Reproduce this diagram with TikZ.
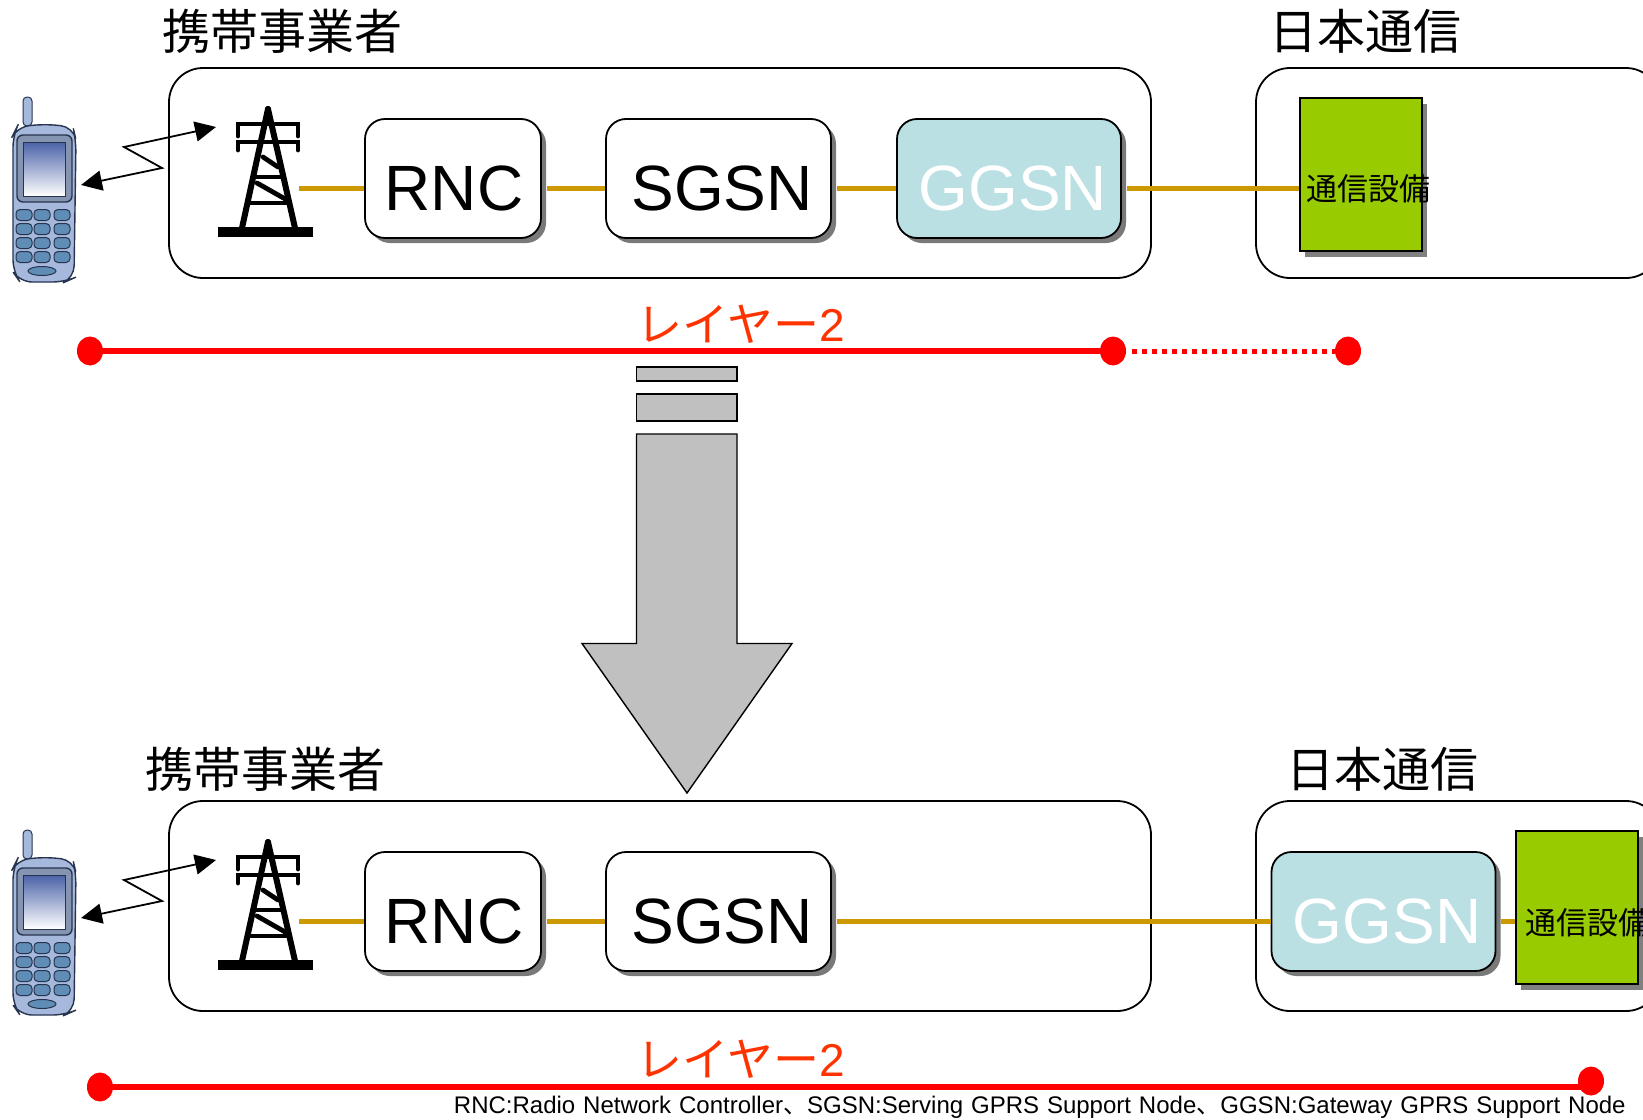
\documentclass[tikz,border=0pt]{standalone}
\usepackage{fontspec}
\setmainfont{Liberation Sans}
\newfontfamily\cjk{Noto Sans CJK JP}
\usetikzlibrary{shadows,arrows.meta,shapes.geometric}
\definecolor{linkcol}{HTML}{CC9900}
\definecolor{boxblue}{HTML}{BBE0E3}
\definecolor{boxgreen}{HTML}{99CC00}
\definecolor{labred}{HTML}{FF3300}
\definecolor{arrowgray}{HTML}{C0C0C0}
\definecolor{phonebody}{HTML}{A6B9DC}
\definecolor{phonekey}{HTML}{5F8DB5}
\definecolor{phoneline}{HTML}{27344F}
\definecolor{screentop}{HTML}{4A62A8}
\newcommand{\boxtext}[2][0pt]{\raisebox{-16.2pt}[0pt][0pt]{\hspace*{#1}#2}}
\newcommand{\nsp}{\hspace{3.95pt}}
\tikzset{
  areabox/.style={draw=black,line width=0.9pt,rounded corners=17pt,fill=white,inner sep=0},
  unitbase/.style={draw=black,line width=0.9pt,rounded corners=10pt,inner sep=0,
    minimum height=59.5pt,
    general shadow={fill=gray!95!black,shadow xshift=2.5pt,shadow yshift=-2.5pt}},
  whitebox/.style={unitbase,fill=white,font=\fontsize{32}{36}\selectfont},
  bluebox/.style={unitbase,fill=boxblue,text=white,font=\fontsize{32}{36}\selectfont},
  equipbox/.style={draw=black,line width=0.9pt,fill=boxgreen,inner sep=0,
    minimum width=60.75pt,minimum height=76.5pt,
    general shadow={fill=gray,shadow xshift=2.5pt,shadow yshift=-3pt}},
  equiptext/.style={font=\cjk\fontsize{15.5}{18}\selectfont,inner sep=0,anchor=west},
  title/.style={font=\cjk\fontsize{24}{28}\selectfont,inner sep=0},
  layerlabel/.style={font=\cjk\fontsize{23}{26}\selectfont,text=labred,inner sep=0},
  link/.style={draw=linkcol,line width=2.5pt},
  linkshadow/.style={link,shorten <=2.5pt},
  redline/.style={draw=red,line width=2.9pt},
  reddots/.style={draw=red,line width=2.5pt,dash pattern=on 2.5pt off 2.5pt,shorten <=3pt},
  reddot/.style={ellipse,fill=red,inner sep=0,minimum width=13pt,minimum height=14.5pt},
  radio/.style={draw=black,line width=0.9pt,{Triangle[length=10.5pt,width=10pt]}-{Triangle[length=10.5pt,width=10pt]}},
  bigarrow/.style={draw=black,line width=0.7pt,fill=arrowgray},
  towerline/.style={draw=black,line width=3pt,line cap=round},
  towerthin/.style={draw=black,line width=2.4pt,line cap=round},
  handset/.pic={
    \draw[phoneline,fill=phonebody,line width=0.5pt,rounded corners=2pt] (23,126) -- (23,97) -- (32,97) -- (32,126) -- cycle;
    \draw[phoneline,fill=phonebody,line width=0.7pt,rounded corners=6pt] (13,135) -- (17,127) -- (45,124) -- (73,127) -- (76,140) -- (74,278) -- (65,282) -- (20,282) -- (13,272) -- cycle;
    \draw[phoneline,fill=phonebody!80!black,line width=0.7pt,rounded corners=3pt] (17,135) rectangle (72,202);
    \shade[top color=screentop,bottom color=white,draw=phoneline,line width=0.5pt] (23,142) rectangle (65,196);
    \foreach \yy in {215,229,243,257}{
      \foreach \xx in {24,42,62}{
        \draw[phoneline,fill=phonekey,line width=0.5pt,rounded corners=2pt] (\xx-8,\yy-5.5) rectangle (\xx+8,\yy+5.5);
      }
    }
    \draw[phoneline,fill=phonekey,line width=0.5pt] (42,271) ellipse [x radius=14,y radius=4.5];
  },
  mast/.pic={
    \fill[black] (218,227) rectangle (313,237);
    \draw[towerline] (268,109) -- (242,228);
    \draw[towerline] (268,109) -- (295,228);
    \draw[towerthin] (238,136) -- (238,124) -- (298,124) -- (298,136);
    \draw[towerthin] (238,150) -- (238,142) -- (298,142) -- (298,150);
    \draw[towerthin] (257,177) -- (280,177);
    \draw[towerthin] (250,203) -- (288,203);
    \draw[towerthin] (263,157) -- (278,167);
    \draw[towerthin] (257,183) -- (287,200);
  }
}
\begin{document}
\begin{tikzpicture}[x=0.5pt,y=-0.5pt]
\useasboundingbox (0,0) rectangle (1643,1119);
\clip (0,0) rectangle (1643,1119);

% ---------- upper scene ----------
\node[title,anchor=west] (t1) at (162,31) {携帯事業者};
\node[title,anchor=west] (t2) at (1269,31) {日本通信};
\node[areabox,minimum width=491pt,minimum height=105pt] (a1) at (660,173) {};
\node[areabox,minimum width=202pt,minimum height=105pt] (a2) at (1458,173) {};
\pic at (0,0) {handset};
\pic at (0,0) {mast};
\coordinate (m1) at (299,188);
\node[whitebox,minimum width=88pt] (rnc1) at (453,178.5) {\boxtext[1pt]{RNC}};
\node[whitebox,minimum width=112.5pt] (sgsn1) at (718.5,178.5) {\boxtext[3.7pt]{SGSN}};
\node[bluebox,minimum width=112pt] (ggsn1) at (1009,178.5) {\boxtext[3.7pt]{GGSN}};
\node[equipbox] (eq1) at (1361,174.5) {};
\node[equiptext] (eqt1) at (1306,189) {通信設備};
\draw[link] (m1) -- (m1 -| rnc1.west);
\draw[linkshadow] (rnc1.east |- m1) -- (sgsn1.west |- m1);
\draw[linkshadow] (sgsn1.east |- m1) -- (ggsn1.west |- m1);
\draw[linkshadow] (ggsn1.east |- m1) -- (eq1.west |- m1);
\coordinate (z1a) at (216,127);
\coordinate (z1b) at (124,147);
\coordinate (z1c) at (162,168);
\coordinate (z1d) at (81,185);
\draw[radio] (z1d) -- (z1c) -- (z1b) -- (z1a);
\node[layerlabel] (l1) at (741,324) {レイヤー\fontspec{Liberation Sans}2};
\node[reddot] (d1) at (90,351) {};
\node[reddot] (d2) at (1113,351) {};
\node[reddot] (d3) at (1348,351) {};
\draw[redline] (d1) -- (d2);
\draw[reddots] (d2.east) -- (d3.west);

% ---------- transition arrow ----------
\draw[bigarrow] (636.5,367) rectangle (737,381);
\draw[bigarrow] (636.5,394) rectangle (737,421);
\draw[bigarrow] (636.5,434) -- (737,434) -- (737,643.5) -- (792,643.5) -- (687,793) -- (582,643.5) -- (636.5,643.5) -- cycle;

% ---------- lower scene ----------
\node[title,anchor=west] (t3) at (145,769) {携帯事業者};
\node[title,anchor=west] (t4) at (1286,769) {日本通信};
\node[areabox,minimum width=491pt,minimum height=105pt] (a3) at (660,906) {};
\node[areabox,minimum width=202pt,minimum height=105pt] (a4) at (1458,906) {};
\pic at (0,733) {handset};
\pic at (0,733) {mast};
\coordinate (m2) at (299,921);
\node[whitebox,minimum width=88pt] (rnc2) at (453,911.5) {\boxtext[1pt]{RNC}};
\node[whitebox,minimum width=112.5pt] (sgsn2) at (718.5,911.5) {\boxtext[3.7pt]{SGSN}};
\node[bluebox,minimum width=112pt] (ggsn2) at (1383.5,911.5) {\boxtext[3.7pt]{GGSN}};
\node[equipbox,minimum width=61pt] (eq2) at (1577,907.5) {};
\node[equiptext] (eqt2) at (1525,923) {通信設備};
\draw[link] (m2) -- (m2 -| rnc2.west);
\draw[linkshadow] (rnc2.east |- m2) -- (sgsn2.west |- m2);
\draw[linkshadow] (sgsn2.east |- m2) -- (ggsn2.west |- m2);
\draw[linkshadow] (ggsn2.east |- m2) -- (eq2.west |- m2);
\coordinate (z2a) at (216,860);
\coordinate (z2b) at (124,880);
\coordinate (z2c) at (162,901);
\coordinate (z2d) at (81,918);
\draw[radio] (z2d) -- (z2c) -- (z2b) -- (z2a);
\node[layerlabel] (l2) at (741,1059) {レイヤー\fontspec{Liberation Sans}2};
\node[reddot] (d4) at (100,1087) {};
\node[reddot] (d5) at (1591,1081) {};
\coordinate (d5a) at (1591,1087);
\draw[redline] (d4) -- (d5a);
\node[inner sep=0,anchor=east,font=\fontsize{12}{14}\selectfont] (note) at (1626,1107)
  {RNC:Radio\nsp Network\nsp Controller{\cjk 、}SGSN:Serving\nsp GPRS\nsp Support\nsp Node{\cjk 、}GGSN:Gateway\nsp GPRS\nsp Support\nsp Node};
\end{tikzpicture}
\end{document}
